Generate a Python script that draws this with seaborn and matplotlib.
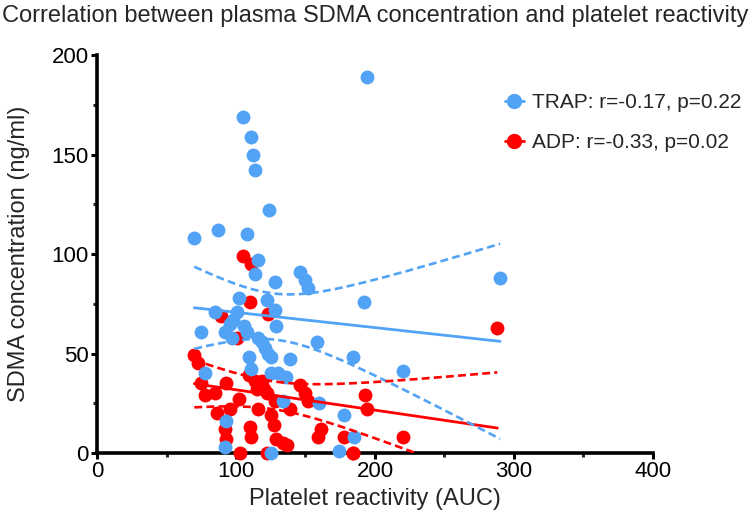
import numpy as np
import pandas as pd
import matplotlib
matplotlib.use("Agg")
import matplotlib.pyplot as plt
from matplotlib.lines import Line2D
import seaborn as sns

# ---- data ----
trap_x = [194, 105, 111, 112, 114, 124, 70, 87, 108, 116, 114, 128, 146, 150, 152,
          102, 122, 128, 85, 101, 98, 96, 106, 129, 75, 92, 108, 97, 116, 119, 121,
          123, 125, 109, 111, 139, 158, 192, 184, 220, 78, 125, 130, 136, 134, 160,
          178, 185, 174, 125, 93, 92, 290]
trap_y = [189, 169, 159, 150, 142, 122, 108, 112, 110, 97, 90, 86, 91, 87, 83,
          78, 77, 72, 71, 71, 67, 65, 64, 64, 61, 61, 61, 58, 58, 56, 53,
          50, 48, 48, 42, 47, 56, 76, 48, 41, 40, 40, 40, 38, 26, 25,
          19, 8, 1, 0, 16, 3, 88]

adp_x = [105, 111, 110, 123, 89, 101, 70, 73, 75, 93, 109, 114, 119, 115, 120, 122,
         146, 150, 152, 193, 194, 128, 139, 116, 125, 127, 110, 111, 161, 159, 129,
         134, 137, 178, 220, 103, 122, 184, 184, 78, 85, 102, 86, 96, 92, 93, 288]
adp_y = [99, 95, 76, 70, 69, 58, 49, 45, 35, 35, 39, 36, 36, 32, 32, 30,
         34, 30, 26, 29, 22, 26, 22, 22, 19, 14, 13, 8, 12, 8, 7,
         5, 4, 8, 8, 0, 0, 0, 0, 29, 30, 27, 20, 22, 12, 7, 63]

labels = ["TRAP: r=-0.17, p=0.22", "ADP: r=-0.33, p=0.02"]
x_ticks = [0, 100, 200, 300, 400]
y_ticks = [0, 50, 100, 150, 200]

BLUE = "#52A3F5"
RED = "#FF0000"

sns.set_style("ticks")
plt.rcParams["font.family"] = ["Liberation Sans", "DejaVu Sans"]

fig = plt.figure(figsize=(7.5, 5.2), dpi=100)
ax = fig.add_axes([97 / 750, 1 - 453 / 520, 556 / 750, 398 / 520])

df_t = pd.DataFrame({"x": trap_x, "y": trap_y})
df_a = pd.DataFrame({"x": adp_x, "y": adp_y})


def ci_band(df, tcrit, color):
    x = np.asarray(df["x"], float)
    y = np.asarray(df["y"], float)
    n = len(x)
    b, a = np.polyfit(x, y, 1)
    resid = y - (a + b * x)
    s = np.sqrt(np.sum(resid ** 2) / (n - 2))
    xm = x.mean()
    sxx = np.sum((x - xm) ** 2)
    xg = np.linspace(x.min(), x.max(), 200)
    yg = a + b * xg
    half = tcrit * s * np.sqrt(1 / n + (xg - xm) ** 2 / sxx)
    for sign in (1, -1):
        ax.plot(xg, yg + sign * half, color=color, lw=1.9, ls=(0, (3.0, 1.6)), zorder=4)


sns.scatterplot(data=df_a, x="x", y="y", color=RED, s=100, linewidth=0,
                ax=ax, clip_on=False, zorder=3)
sns.scatterplot(data=df_t, x="x", y="y", color=BLUE, s=100, linewidth=0,
                ax=ax, clip_on=False, zorder=3)

sns.regplot(data=df_t, x="x", y="y", scatter=False, ci=None, ax=ax,
            color=BLUE, line_kws={"lw": 2.0, "zorder": 4})
sns.regplot(data=df_a, x="x", y="y", scatter=False, ci=None, ax=ax,
            color=RED, line_kws={"lw": 2.0, "zorder": 4})
ci_band(df_t, 2.008, BLUE)
ci_band(df_a, 2.014, RED)

ax.set_xlim(0, 400)
ax.set_ylim(0, 200)
ax.set_xticks(x_ticks)
ax.set_yticks(y_ticks)
ax.set_xticks([50, 150, 250, 350], minor=True)
ax.set_yticks([25, 75, 125, 175], minor=True)
ax.tick_params(axis="both", which="major", labelsize=16, length=4.5, width=2.2,
               direction="out", pad=1.5, color="black", labelcolor="black")
ax.tick_params(axis="both", which="minor", length=2.8, width=2.2, direction="out")
for sp in ("left", "bottom"):
    ax.spines[sp].set_linewidth(2.6)
    ax.spines[sp].set_color("black")
sns.despine(ax=ax)

ax.set_xlabel("Platelet reactivity (AUC)", fontsize=17)
ax.set_ylabel("SDMA concentration (ng/ml)", fontsize=17)
ax.xaxis.set_label_coords(0.5, (453 - 499) / 398)
ax.yaxis.set_label_coords((19 - 97) / 556, 0.5)
ax.xaxis.label.set_va("center")
ax.yaxis.label.set_va("center")

fig.text(0.5, 1 - 16 / 520, "Correlation between plasma SDMA concentration and platelet reactivity",
         ha="center", va="center", fontsize=17)

handles = [Line2D([0], [0], color=BLUE, marker="o", markersize=10, lw=2),
           Line2D([0], [0], color=RED, marker="o", markersize=10, lw=2)]
fig.legend(handles, labels, loc="upper left", bbox_to_anchor=(505 / 750, 1 - 93 / 520),
           frameon=False, fontsize=15, handlelength=0.9, handletextpad=0.4,
           labelspacing=1.0, borderpad=0, borderaxespad=0)

fig.savefig("out.png", dpi=100)
